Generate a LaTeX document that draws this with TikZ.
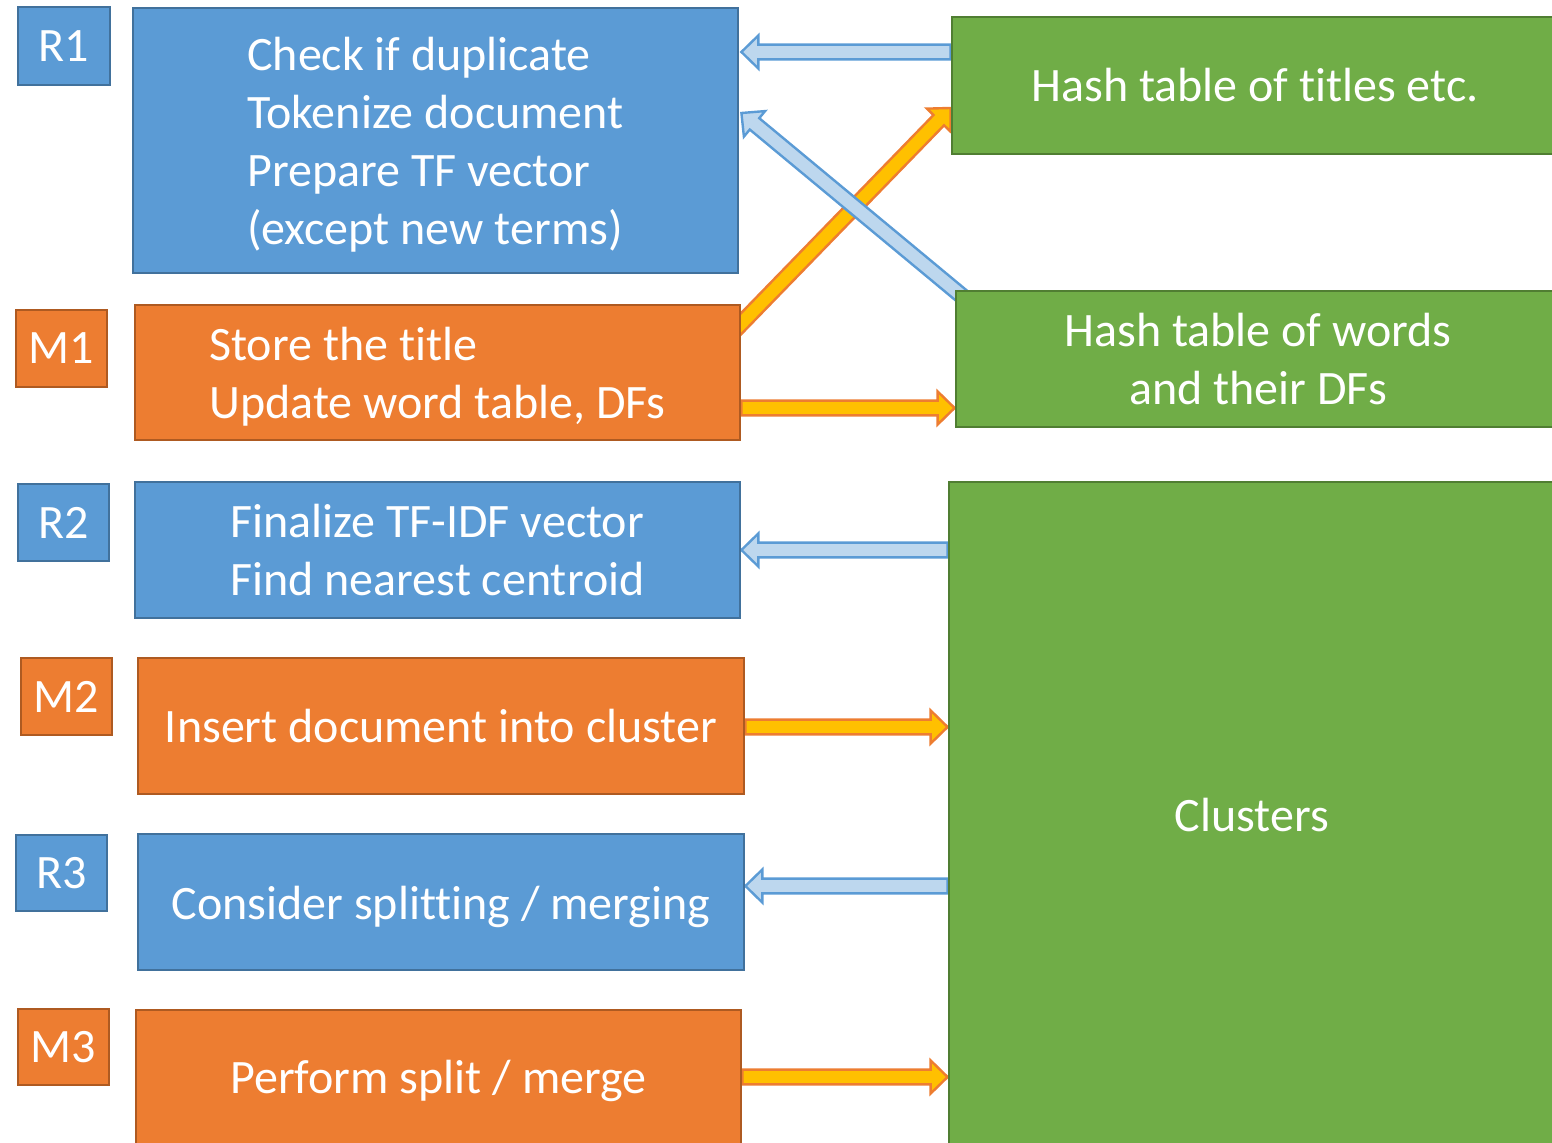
\documentclass[tikz,border=0pt]{standalone}
\usepackage{fontspec}
\setmainfont{Carlito}[Ligatures=NoCommon]
\usetikzlibrary{fit,calc}
\pgfdeclarelayer{bg}
\pgfsetlayers{bg,main}
\definecolor{boxblue}{HTML}{5B9BD5}
\definecolor{boxblueline}{HTML}{41719C}
\definecolor{boxorange}{HTML}{ED7D31}
\definecolor{boxorangeline}{HTML}{AE5A21}
\definecolor{boxgreen}{HTML}{70AD47}
\definecolor{boxgreenline}{HTML}{507E32}
\definecolor{arrowpale}{HTML}{BDD7EE}
\definecolor{arrowgold}{HTML}{FFC000}

% block arrow from #2 to #3 (tip at #3), style #1
\newcommand\blockarrow[3]{%
  \path let \p1=(#2), \p2=(#3) in
    \pgfextra{\pgfmathsetmacro\tmpang{atan2(\y2-\y1,\x2-\x1)}\global\let\barang\tmpang
              \pgfmathsetmacro\tmplen{veclen(\x2-\x1,\y2-\y1)}\global\let\barlen\tmplen};
  \draw[#1, shift={(#2)}, rotate=\barang]
    (0pt,-3.7pt) -- (\barlen pt-8.5pt,-3.7pt) -- (\barlen pt-8.5pt,-8.3pt) -- (\barlen pt,0pt)
    -- (\barlen pt-8.5pt,8.3pt) -- (\barlen pt-8.5pt,3.7pt) -- (0pt,3.7pt) -- cycle;}

\tikzset{
  card/.style={inner sep=0pt, line width=1.4pt},
  bluecard/.style={card, fill=boxblue, draw=boxblueline},
  orangecard/.style={card, fill=boxorange, draw=boxorangeline},
  greencard/.style={card, fill=boxgreen, draw=boxgreenline},
  label/.style={text=white, inner sep=0pt, font=\fontsize{24pt}{29pt}\selectfont},
  palearrow/.style={fill=arrowpale, draw=boxblue, line width=1.2pt, line join=miter},
  goldarrow/.style={fill=arrowgold, draw=boxorange, line width=1.2pt, line join=miter},
}

\begin{document}
\begin{tikzpicture}[x=0.5pt, y=-0.5pt]
\useasboundingbox (0,0) rectangle (1552,1143);
\clip (0,0) rectangle (1552,1143);

% step tags
\node[bluecard,   fit={(18,7) (110,85)}]      (r1tag) {};
\node[orangecard, fit={(16,310) (107,387)}]   (m1tag) {};
\node[bluecard,   fit={(18,484) (109,561)}]   (r2tag) {};
\node[orangecard, fit={(21,658) (112,735)}]   (m2tag) {};
\node[bluecard,   fit={(16,835) (107,911)}]   (r3tag) {};
\node[orangecard, fit={(18,1009) (109,1085)}] (m3tag) {};
\node[label] (r1tagt) at (r1tag.center) {R1};
\node[label] (m1tagt) at (m1tag.center) {M1};
\node[label] (r2tagt) at (r2tag.center) {R2};
\node[label] (m2tagt) at (m2tag.center) {M2};
\node[label] (r3tagt) at (r3tag.center) {R3};
\node[label] (m3tagt) at (m3tag.center) {M3};

% step descriptions
\node[bluecard,   fit={(133,8) (738,273)}]    (r1) {};
\node[orangecard, fit={(135,305) (740,440)}]  (m1) {};
\node[bluecard,   fit={(135,482) (740,618)}]  (r2) {};
\node[orangecard, fit={(138,658) (744,794)}]  (m2) {};
\node[bluecard,   fit={(138,834) (744,970)}]  (r3) {};
\node[orangecard, fit={(136,1010) (741,1146)}] (m3) {};
\node[label, align=left] (r1t) at ([yshift=-2pt]r1.center)
  {Check if duplicate\\Tokenize document\\Prepare TF vector\\(except new terms)};
\node[label, align=left] (m1t) at ([yshift=-2pt]m1.center) {Store the title\\Update word table, DFs};
\node[label, align=left] (r2t) at (r2.center) {Finalize TF-IDF vector\\Find nearest centroid};
\node[label] (m2t) at (m2.center) {Insert document into cluster};
\node[label] (r3t) at ([yshift=-2.5pt]r3.center) {Consider splitting / merging};
\node[label] (m3t) at ([yshift=-1.5pt]m3.center) {Perform split / merge};

% shared data
\node[greencard, fit={(952,17) (1558,154)}]  (ht) {};
\node[greencard, fit={(956,291) (1560,427)}] (hw) {};
\node[greencard, fit={(949,482) (1555,1148)}] (cl) {};
\node[label] (htt) at (ht.center) {Hash table of titles etc.};
\node[label, align=center] (hwt) at (hw.center) {Hash table of words\\and their DFs};
\node[label] (clt) at (cl.center) {Clusters};

% arrow end points
\coordinate (a1s) at (ht.west |- 0,52);
\coordinate (a1e) at ([xshift=1pt]r1.east |- 0,52);
\coordinate (d1s) at ($(m1.north east)+(-7,27)$);
\coordinate (d1e) at (ht.west |- 0,108);
\coordinate (d2s) at ($(hw.north west)+(8,7)$);
\coordinate (d2e) at ([xshift=1pt]r1.east |- 0,113);
\coordinate (a4s) at (m1.east |- 0,408);
\coordinate (a4e) at (hw.west |- 0,408);
\coordinate (a5s) at (cl.west |- 0,550);
\coordinate (a5e) at (r2.east |- 0,550);
\coordinate (a6s) at (m2.east |- 0,727);
\coordinate (a6e) at (cl.west |- 0,727);
\coordinate (a7s) at (cl.west |- 0,886);
\coordinate (a7e) at (r3.east |- 0,886);
\coordinate (a8s) at (m3.east |- 0,1077);
\coordinate (a8e) at (cl.west |- 0,1077);

\begin{pgfonlayer}{bg}
\blockarrow{goldarrow}{d1s}{d1e}
\blockarrow{palearrow}{d2s}{d2e}
\blockarrow{palearrow}{a1s}{a1e}
\blockarrow{goldarrow}{a4s}{a4e}
\blockarrow{palearrow}{a5s}{a5e}
\blockarrow{goldarrow}{a6s}{a6e}
\blockarrow{palearrow}{a7s}{a7e}
\blockarrow{goldarrow}{a8s}{a8e}
\end{pgfonlayer}
\end{tikzpicture}
\end{document}
